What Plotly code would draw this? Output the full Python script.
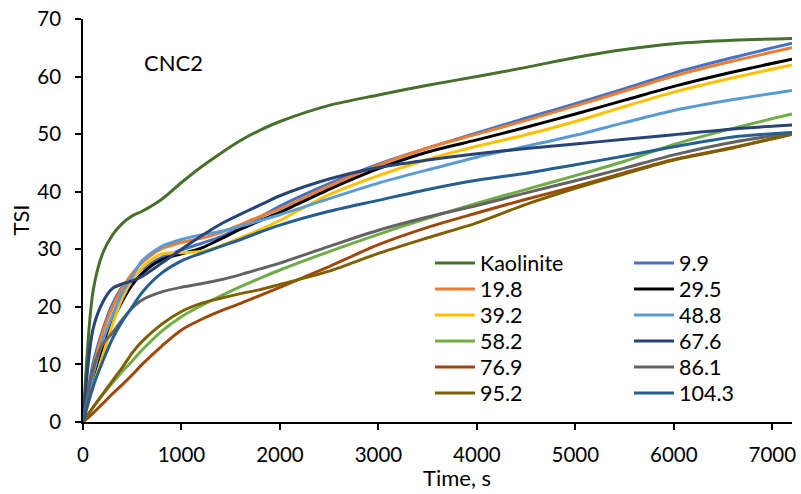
import plotly.graph_objects as go

time_s = [0, 100, 200, 300, 400, 500, 600, 800, 1000, 1200, 1400, 1600, 1800,
          2000, 2500, 3000, 3500, 4000, 4500, 5000, 5500, 6000, 6600, 7200]

series_names = ["Kaolinite", "9.9", "19.8", "29.5", "39.2", "48.8", "58.2",
                "67.6", "76.9", "86.1", "95.2", "104.3"]

tsi_kaolinite = [0, 22.5, 29.3, 32.5, 34.5, 35.8, 36.6, 38.7, 41.6, 44.3, 46.7, 48.9, 50.7,
                 52.2, 55.0, 56.8, 58.5, 60.0, 61.6, 63.3, 64.7, 65.7, 66.3, 66.6]
tsi_9_9 = [0, 10.0, 16.0, 20.5, 23.5, 25.2, 26.6, 28.6, 29.9, 31.0, 32.2, 33.8, 35.6,
           37.5, 41.4, 44.8, 47.6, 50.2, 52.8, 55.3, 57.9, 60.6, 63.3, 65.8]
tsi_19_8 = [0, 9.0, 15.5, 20.0, 23.3, 25.8, 27.7, 30.1, 31.2, 31.9, 32.9, 34.3, 35.7,
            37.0, 41.0, 44.6, 47.6, 50.0, 52.4, 54.9, 57.5, 60.1, 62.7, 65.0]
tsi_29_5 = [0, 7.5, 13.0, 17.5, 21.0, 23.8, 25.8, 28.2, 29.2, 30.2, 31.8, 33.5, 35.0,
            36.4, 40.4, 44.0, 46.9, 49.0, 51.2, 53.5, 55.9, 58.3, 60.8, 63.0]
tsi_39_2 = [0, 6.0, 11.5, 17.0, 21.5, 24.7, 26.8, 29.2, 29.4, 29.6, 30.6, 32.0, 33.4,
            35.0, 39.5, 42.8, 45.6, 47.9, 49.9, 52.2, 54.8, 57.3, 59.8, 62.0]
tsi_48_8 = [0, 8.0, 14.0, 18.5, 22.5, 25.3, 28.0, 30.5, 31.7, 32.5, 33.1, 34.0, 35.0,
            36.0, 38.8, 41.5, 43.8, 46.0, 47.9, 49.8, 52.0, 54.1, 56.0, 57.6]
tsi_58_2 = [0, 2.5, 4.8, 6.8, 8.8, 10.6, 12.5, 15.8, 18.3, 20.2, 21.9, 23.5, 25.0,
            26.4, 29.6, 32.6, 35.4, 38.0, 40.4, 42.8, 45.3, 48.2, 51.0, 53.5]
tsi_67_6 = [0, 16.0, 20.8, 23.2, 24.0, 24.5, 25.3, 27.6, 30.0, 32.3, 34.4, 36.1, 37.7,
            39.3, 42.2, 44.2, 45.5, 46.6, 47.5, 48.3, 49.1, 49.9, 50.9, 51.6]
tsi_76_9 = [0, 1.5, 3.2, 4.9, 6.5, 8.2, 10.0, 13.2, 16.0, 17.8, 19.3, 20.6, 22.0,
            23.4, 27.0, 30.8, 33.8, 36.3, 38.7, 40.9, 43.3, 45.6, 47.7, 50.0]
tsi_86_1 = [0, 9.0, 13.5, 15.5, 17.8, 19.8, 21.2, 22.6, 23.4, 24.0, 24.7, 25.6, 26.6,
            27.6, 30.5, 33.3, 35.6, 37.6, 39.8, 41.9, 44.1, 46.4, 48.6, 50.2]
tsi_95_2 = [0, 2.5, 4.8, 7.2, 9.5, 12.0, 14.0, 17.0, 19.2, 20.6, 21.5, 22.3, 23.0,
            23.9, 26.2, 29.3, 32.0, 34.6, 37.8, 40.6, 43.1, 45.5, 47.6, 50.0]
tsi_104_3 = [0, 6.0, 10.5, 14.5, 17.5, 20.0, 22.5, 25.9, 28.0, 29.3, 30.5, 31.7, 33.0,
             34.2, 36.6, 38.5, 40.4, 42.0, 43.2, 44.7, 46.2, 47.8, 49.5, 50.3]

series_values = [tsi_kaolinite, tsi_9_9, tsi_19_8, tsi_29_5, tsi_39_2, tsi_48_8,
                 tsi_58_2, tsi_67_6, tsi_76_9, tsi_86_1, tsi_95_2, tsi_104_3]

colors = ["#46702C", "#4472C4", "#ED7D31", "#000000", "#FFC000", "#5B9BD5",
          "#70AD47", "#264478", "#9E480E", "#636363", "#7F6000", "#255E91"]

x_ticks = [0, 1000, 2000, 3000, 4000, 5000, 6000, 7000]
y_ticks = [0, 10, 20, 30, 40, 50, 60, 70]

FONT = "Lato"
TICK_FS = 20.5
LFS = 21.5
TFS = 22

# plot area in pixels
L, R, T, B = 83, 9, 19, 72
W, H = 801, 494
PW, PH = W - L - R, H - T - B


def px_x(x):
    return (x - L) / PW


def px_y(y):
    return (H - B - y) / PH


fig = go.Figure()
for i, (name, vals, col) in enumerate(zip(series_names, series_values, colors)):
    row = i // 2
    fig.add_trace(go.Scatter(
        x=time_s, y=vals, name=name, mode="lines",
        line=dict(color=col, width=3, shape="spline", smoothing=0.8),
        legend="legend" if row == 0 else f"legend{row + 1}",
        legendwidth=144 if i % 2 == 0 else 70,
    ))

axis_common = dict(
    showgrid=False, zeroline=False, showline=True, linecolor="#000000", linewidth=1.5,
    ticks="outside", ticklen=6, tickwidth=1.5, tickcolor="#000000", automargin=False,
    tickfont=dict(family=FONT, size=TICK_FS, color="#000000"),
)

legend_rows = {}
for r in range(6):
    key = "legend" if r == 0 else f"legend{r + 1}"
    legend_rows[key] = dict(
        orientation="h", x=px_x(430), y=px_y(263 + 26 * r),
        xanchor="left", yanchor="middle", bgcolor="rgba(0,0,0,0)",
        font=dict(family=FONT, size=LFS, color="#000000"),
        itemwidth=40,
    )

fig.update_layout(
    width=W, height=H,
    margin=dict(l=L, r=R, t=T, b=B),
    paper_bgcolor="white", plot_bgcolor="white",
    font=dict(family=FONT, size=TFS, color="#000000"),
    xaxis=dict(range=[0, 7200], tickvals=x_ticks, ticklabelstandoff=8, **axis_common),
    yaxis=dict(range=[0, 70], tickvals=y_ticks, ticklabelstandoff=10, **axis_common),
    annotations=[
        dict(text="CNC2", x=px_x(173), y=px_y(62), xref="paper", yref="paper",
             showarrow=False, font=dict(family=FONT, size=TFS), xanchor="center", yanchor="middle"),
        dict(text="Time, s", x=px_x(457), y=px_y(477), xref="paper", yref="paper",
             showarrow=False, font=dict(family=FONT, size=TFS), xanchor="center", yanchor="middle"),
        dict(text="TSI", x=px_x(20), y=0.5, xref="paper", yref="paper", textangle=-90,
             showarrow=False, font=dict(family=FONT, size=TFS), xanchor="center", yanchor="middle"),
    ],
    **legend_rows,
)

fig.write_html("out.html", config={"displayModeBar": False},
               post_script="document.body.style.margin='0';")
